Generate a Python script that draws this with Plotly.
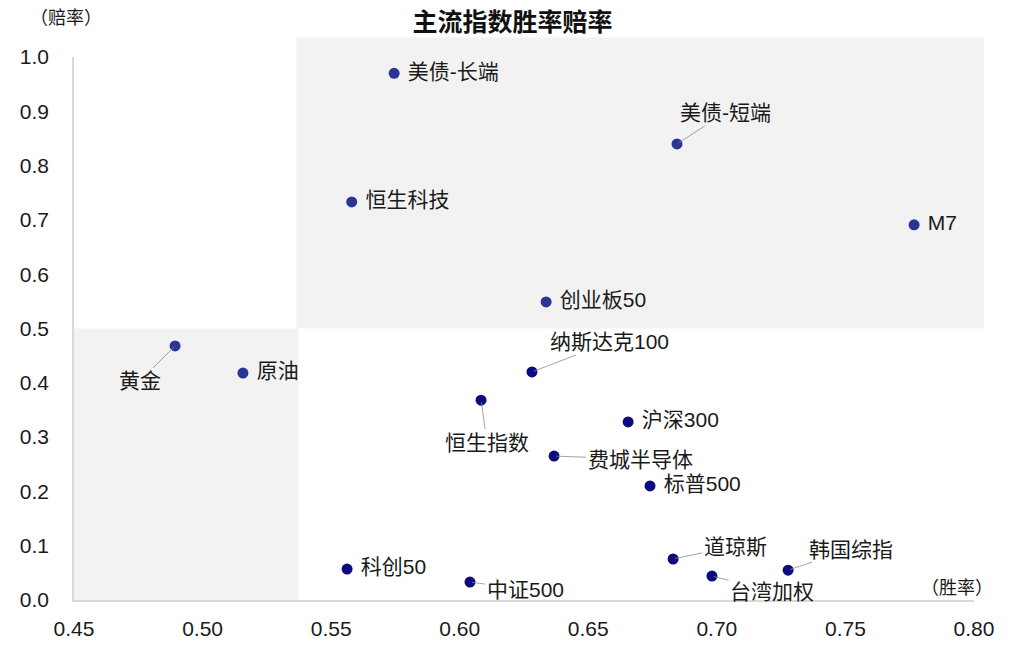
import plotly.graph_objects as go

# 胜率 (x) / 赔率 (y) per index
names = ["美债-长端", "恒生科技", "美债-短端", "M7", "创业板50", "黄金", "原油",
         "恒生指数", "科创50", "中证500", "纳斯达克100", "沪深300", "费城半导体",
         "标普500", "道琼斯", "台湾加权", "韩国综指"]
win_rate = [0.5745, 0.558, 0.6845, 0.7767, 0.6336, 0.4893, 0.5157,
            0.6083, 0.5562, 0.604, 0.6281, 0.6655, 0.6367,
            0.674, 0.683, 0.6981, 0.7277]
odds = [0.970, 0.733, 0.840, 0.691, 0.549, 0.468, 0.418,
        0.368, 0.057, 0.033, 0.420, 0.328, 0.265,
        0.210, 0.0755, 0.044, 0.055]

# labels placed away from the point with a leader line: name -> (dx, dy) px
leader = {
    "美债-短端": (48, -31),
    "黄金": (-35, 35),
    "纳斯达克100": (78, -30),
    "恒生指数": (6, 42),
    "费城半导体": (86, 3),
    "中证500": (55, 7),
    "道琼斯": (62, -13),
    "台湾加权": (60, 15),
    "韩国综指": (63, -21),
}

x_ticks = [0.45, 0.50, 0.55, 0.60, 0.65, 0.70, 0.75, 0.80]
y_ticks = [0.0, 0.1, 0.2, 0.3, 0.4, 0.5, 0.6, 0.7, 0.8, 0.9, 1.0]

XMIN, XMAX = 0.45, 0.8
YMIN, YMAX = 0.0, 1.0
SPLIT_X, SPLIT_Y = 0.5365, 0.5

FONT = "Liberation Sans, Noto Sans CJK SC, sans-serif"
FS = 21


def in_gray(x, y):
    return (x >= SPLIT_X and y >= SPLIT_Y) or (x < SPLIT_X and y < SPLIT_Y)


colors = ["#2B3597" if in_gray(x, y) else "#0B0B7E" for x, y in zip(win_rate, odds)]
texts = ["" if n in leader else " " + n for n in names]

fig = go.Figure()
fig.add_trace(go.Scatter(
    x=win_rate, y=odds, mode="markers+text",
    text=texts, textposition="middle right",
    textfont=dict(size=FS, color="#1a1a1a", family=FONT),
    marker=dict(size=11, color=colors, line=dict(width=0)),
    hoverinfo="skip", showlegend=False, cliponaxis=False,
))


def px(v):
    return (v - XMIN) / (XMAX - XMIN)


def py(v):
    return (v - YMIN) / (YMAX - YMIN)


# shaded quadrants (paper coords so they may run past the axes like the original)
fig.add_shape(type="rect", xref="paper", yref="paper",
              x0=px(SPLIT_X), x1=1.011, y0=py(SPLIT_Y), y1=1.036,
              fillcolor="#F2F2F2", line=dict(width=0), layer="below")
fig.add_shape(type="rect", xref="paper", yref="paper",
              x0=0, x1=px(SPLIT_X) + 0.002, y0=0, y1=py(SPLIT_Y),
              fillcolor="#F2F2F2", line=dict(width=0), layer="below")

annotations = []
for n, x, y in zip(names, win_rate, odds):
    if n in leader:
        dx, dy = leader[n]
        annotations.append(dict(
            x=x, y=y, text=n, showarrow=True, arrowhead=0, arrowwidth=0.8,
            arrowcolor="#8c8c8c", ax=dx, ay=dy, standoff=2,
            font=dict(size=FS, color="#1a1a1a", family=FONT),
        ))

annotations += [
    dict(text="（赔率）", xref="paper", yref="paper", x=-0.009, y=1.072,
         xanchor="center", yanchor="middle", showarrow=False,
         font=dict(size=18, color="#1a1a1a", family=FONT)),
    dict(text="（胜率）", xref="paper", yref="paper", x=1.023, y=0.022,
         xanchor="right", yanchor="middle", showarrow=False,
         font=dict(size=18, color="#1a1a1a", family=FONT)),
]

# the page body adds an 8px margin all round, so size the figure to fit inside
fig.update_layout(
    width=1003, height=636,
    margin=dict(l=66, r=37, t=49, b=44),
    paper_bgcolor="white", plot_bgcolor="rgba(0,0,0,0)",
    title=dict(text="<b>主流指数胜率赔率</b>", x=0.503, xanchor="center",
               y=0.977, yanchor="middle",
               font=dict(size=25, color="#111111", family=FONT)),
    annotations=annotations,
    font=dict(family=FONT),
)
fig.update_xaxes(range=[XMIN, XMAX], tickvals=x_ticks,
                 ticktext=[f"{v:.2f}" for v in x_ticks],
                 showgrid=False, zeroline=False, showline=True,
                 linecolor="#D9D9D9", linewidth=1.5, ticks="",
                 ticklabelstandoff=9, automargin=False,
                 tickfont=dict(size=FS, color="#1a1a1a", family=FONT))
fig.update_yaxes(range=[YMIN, YMAX], tickvals=y_ticks,
                 ticktext=[f"{v:.1f}" for v in y_ticks],
                 showgrid=False, zeroline=False, showline=True,
                 linecolor="#D9D9D9", linewidth=1.5, ticks="",
                 ticklabelstandoff=19, automargin=False,
                 tickfont=dict(size=FS, color="#1a1a1a", family=FONT))

fig.write_html("out.html")
